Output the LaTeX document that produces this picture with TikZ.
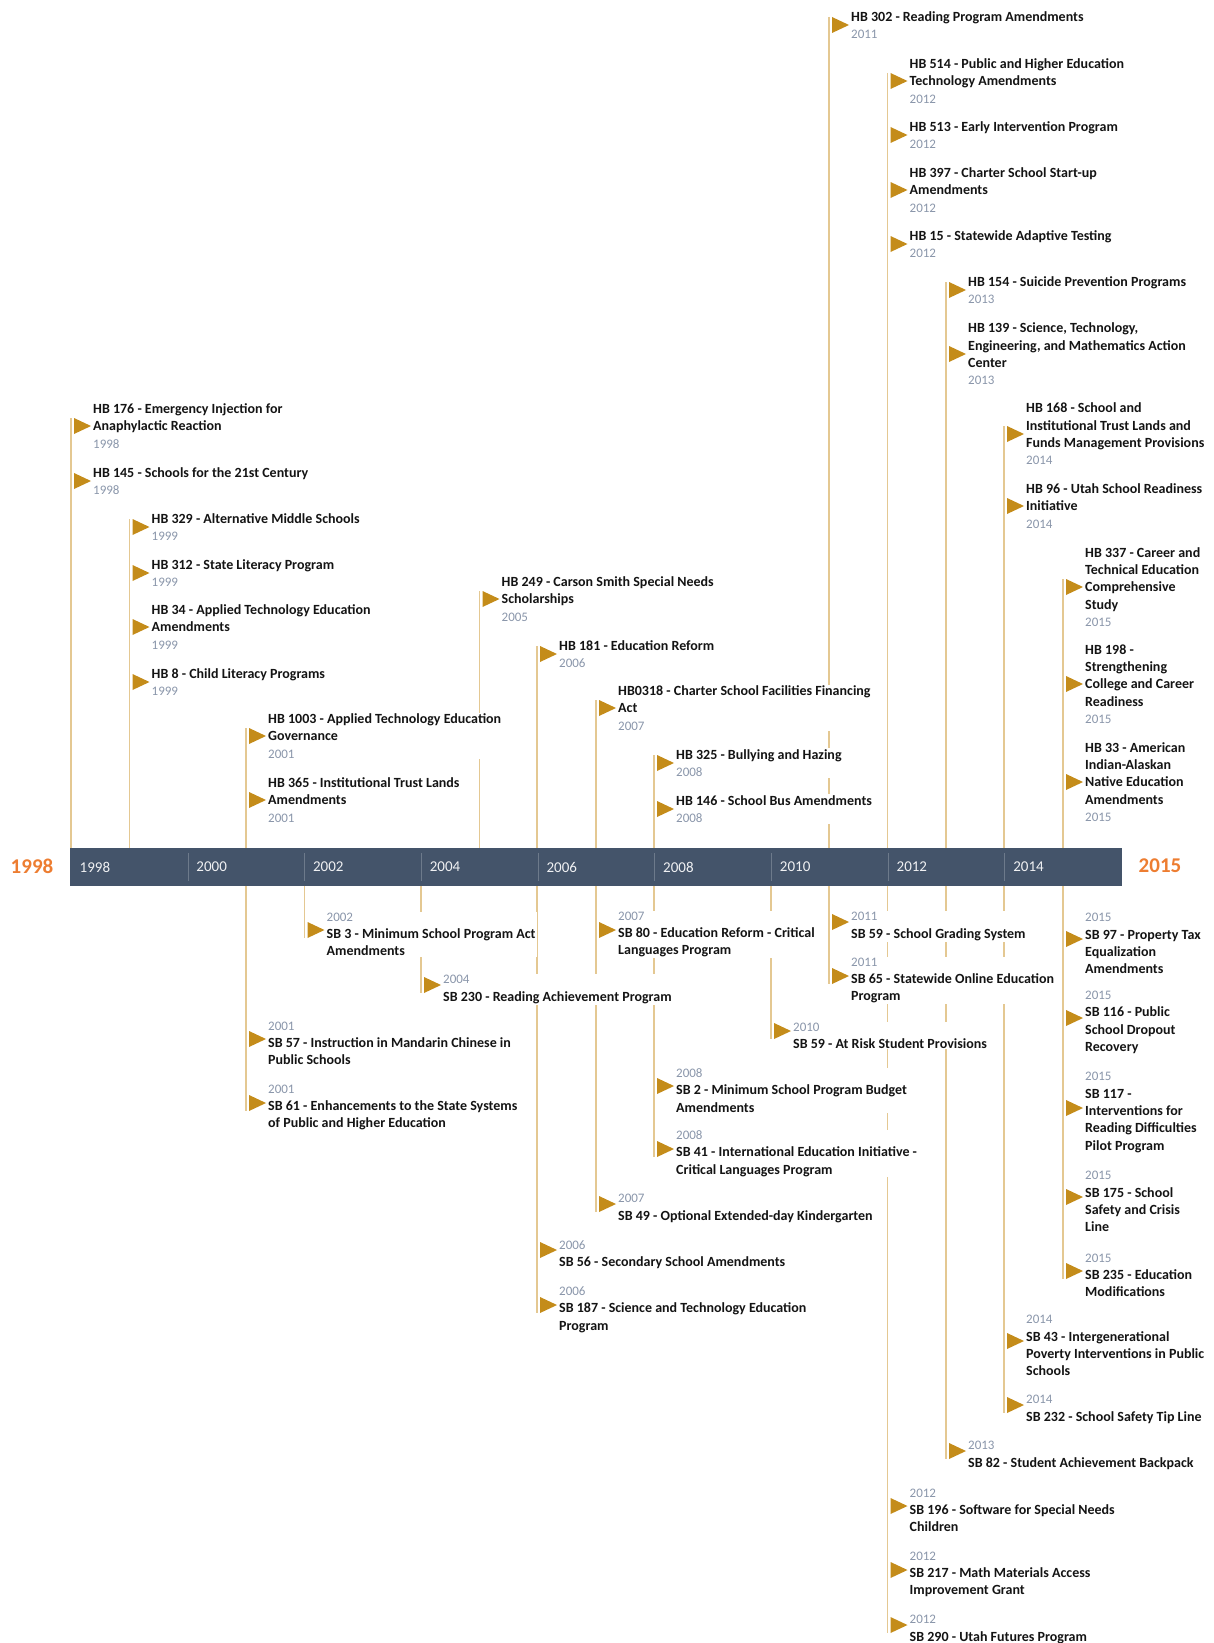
\documentclass[tikz,border=0pt]{standalone}
\usepackage{fontspec}
\setmainfont{Carlito}
\definecolor{barc}{HTML}{44546A}
\definecolor{flagc}{RGB}{196,140,26}
\definecolor{stemc}{RGB}{228,200,146}
\definecolor{yrc}{RGB}{138,150,170}
\definecolor{bigc}{HTML}{ED7D31}
\newcommand\yr[1]{{\fontsize{13}{17.3}\selectfont\mdseries\color{yrc}#1}}
\tikzset{
  bill/.style={anchor=west, align=left, fill=white, inner sep=1pt, text=black!92,
    font=\fontsize{14}{17.3}\selectfont\bfseries},
  sbill/.style={bill, yshift=-4.5pt},
  stem/.style={draw=stemc, line width=1.8pt},
  flag/.style={fill=flagc},
  barlbl/.style={anchor=west, text=white!92!barc, font=\fontsize{15}{18}\selectfont},
  bigyr/.style={text=bigc, font=\fontsize{21}{24}\selectfont\bfseries},
  sep/.style={draw=white!22!barc, line width=0.8pt}
}
\begin{document}
\begin{tikzpicture}[x=1pt,y=-1pt]
\useasboundingbox (0,0) rectangle (1214,1643);

% timeline bar
\node[fill=barc, minimum width=1052, minimum height=38, inner sep=0, anchor=north west] (bar) at (70,848) {};
\foreach \yy in {1998,2000,...,2014}
  \node[barlbl] (y\yy) at ({71.2+58.35*(\yy-1998)+5},867) {\yy};
\foreach \yy in {2000,2002,...,2014}
  \draw[sep] ({71.2+58.35*(\yy-1998)},853) -- ({71.2+58.35*(\yy-1998)},881);
\node[bigyr] (start) at (32,866) {1998};
\node[bigyr] (end) at (1160,866) {2015};

% flag points, above the bar
\coordinate (h176) at (71,426);
\coordinate (h145) at (71,481);
\coordinate (h329) at (129.5,527);
\coordinate (h312) at (129.5,573);
\coordinate (h34) at (129.5,627);
\coordinate (h8) at (129.5,682);
\coordinate (h1003) at (246,736);
\coordinate (h365) at (246,800);
\coordinate (h249) at (479.5,599);
\coordinate (h181) at (537,654);
\coordinate (h318) at (596,708);
\coordinate (h325) at (654,763);
\coordinate (h146) at (654,809);
\coordinate (h302) at (829,25);
\coordinate (h514) at (887.5,81);
\coordinate (h513) at (887.5,135);
\coordinate (h397) at (887.5,190);
\coordinate (h15) at (887.5,244);
\coordinate (h154) at (946,290);
\coordinate (h139) at (946,354);
\coordinate (h168) at (1004,434);
\coordinate (h96) at (1004,506);
\coordinate (h337) at (1063,587);
\coordinate (h198) at (1063,684);
\coordinate (h33) at (1063,782);
% flag points, below the bar
\coordinate (s57) at (246,1039);
\coordinate (s61) at (246,1103);
\coordinate (s3) at (304.5,930);
\coordinate (s230) at (421,985);
\coordinate (s56) at (537,1250);
\coordinate (s187) at (537,1305);
\coordinate (s80) at (596,930);
\coordinate (s49) at (596,1204);
\coordinate (s2) at (654,1086);
\coordinate (s41) at (654,1149);
\coordinate (s59r) at (771,1031);
\coordinate (s59g) at (829,922);
\coordinate (s65) at (829,976);
\coordinate (s196) at (887.5,1506);
\coordinate (s217) at (887.5,1570);
\coordinate (s290) at (887.5,1625);
\coordinate (s82) at (946,1451);
\coordinate (s43) at (1004,1341);
\coordinate (s232) at (1004,1405);
\coordinate (s97) at (1063,939);
\coordinate (s116) at (1063,1018);
\coordinate (s117) at (1063,1108);
\coordinate (s175) at (1063,1197);
\coordinate (s235) at (1063,1271);

% stems
\foreach \f in {h176,h329,h1003,h249,h181,h318,h325,h302,h514,h154,h168,h337}
  \draw[stem] ([yshift=8pt]\f) -- (\f |- bar.north);
\foreach \f in {s61,s3,s230,s187,s49,s41,s59r,s65,s290,s82,s232,s235}
  \draw[stem] (\f |- bar.south) -- ([yshift=-8pt]\f);

% flags
\foreach \f in {h176,h145,h329,h312,h34,h8,h1003,h365,h249,h181,h318,h325,h146,
    h302,h514,h513,h397,h15,h154,h139,h168,h96,h337,h198,h33,
    s57,s61,s3,s230,s56,s187,s80,s49,s2,s41,s59r,s59g,s65,
    s196,s217,s290,s82,s43,s232,s97,s116,s117,s175,s235}
  \fill[flag] ([xshift=3pt,yshift=8pt]\f) -- ++(17pt,-8pt) -- ++(-17pt,-8pt) -- cycle;

% house bills
\node[bill] (hb176) at ([xshift=21pt]h176) {HB 176 - Emergency Injection for\\Anaphylactic Reaction\\\yr{1998}};
\node[bill] (hb145) at ([xshift=21pt]h145) {HB 145 - Schools for the 21st Century\\\yr{1998}};
\node[bill] (hb329) at ([xshift=21pt]h329) {HB 329 - Alternative Middle Schools\\\yr{1999}};
\node[bill] (hb312) at ([xshift=21pt]h312) {HB 312 - State Literacy Program\\\yr{1999}};
\node[bill] (hb34) at ([xshift=21pt]h34) {HB 34 - Applied Technology Education\\Amendments\\\yr{1999}};
\node[bill] (hb8) at ([xshift=21pt]h8) {HB 8 - Child Literacy Programs\\\yr{1999}};
\node[bill] (hb1003) at ([xshift=21pt]h1003) {HB 1003 - Applied Technology Education\\Governance\\\yr{2001}};
\node[bill] (hb365) at ([xshift=21pt]h365) {HB 365 - Institutional Trust Lands\\Amendments\\\yr{2001}};
\node[bill] (hb249) at ([xshift=21pt]h249) {HB 249 - Carson Smith Special Needs\\Scholarships\\\yr{2005}};
\node[bill] (hb181) at ([xshift=21pt]h181) {HB 181 - Education Reform\\\yr{2006}};
\node[bill] (hb318) at ([xshift=21pt]h318) {HB0318 - Charter School Facilities Financing\\Act\\\yr{2007}};
\node[bill] (hb325) at ([xshift=21pt]h325) {HB 325 - Bullying and Hazing\\\yr{2008}};
\node[bill] (hb146) at ([xshift=21pt]h146) {HB 146 - School Bus Amendments\\\yr{2008}};
\node[bill] (hb302) at ([xshift=21pt]h302) {HB 302 - Reading Program Amendments\\\yr{2011}};
\node[bill] (hb514) at ([xshift=21pt]h514) {HB 514 - Public and Higher Education\\Technology Amendments\\\yr{2012}};
\node[bill] (hb513) at ([xshift=21pt]h513) {HB 513 - Early Intervention Program\\\yr{2012}};
\node[bill] (hb397) at ([xshift=21pt]h397) {HB 397 - Charter School Start-up\\Amendments\\\yr{2012}};
\node[bill] (hb15) at ([xshift=21pt]h15) {HB 15 - Statewide Adaptive Testing\\\yr{2012}};
\node[bill] (hb154) at ([xshift=21pt]h154) {HB 154 - Suicide Prevention Programs\\\yr{2013}};
\node[bill] (hb139) at ([xshift=21pt]h139) {HB 139 - Science, Technology,\\Engineering, and Mathematics Action\\Center\\\yr{2013}};
\node[bill] (hb168) at ([xshift=21pt]h168) {HB 168 - School and\\Institutional Trust Lands and\\Funds Management Provisions\\\yr{2014}};
\node[bill] (hb96) at ([xshift=21pt]h96) {HB 96 - Utah School Readiness\\Initiative\\\yr{2014}};
\node[bill] (hb337) at ([xshift=21pt]h337) {HB 337 - Career and\\Technical Education\\Comprehensive\\Study\\\yr{2015}};
\node[bill] (hb198) at ([xshift=21pt]h198) {HB 198 -\\Strengthening\\College and Career\\Readiness\\\yr{2015}};
\node[bill] (hb33) at ([xshift=21pt]h33) {HB 33 - American\\Indian-Alaskan\\Native Education\\Amendments\\\yr{2015}};

% senate bills
\node[sbill] (sb57) at ([xshift=21pt]s57) {\yr{2001}\\SB 57 - Instruction in Mandarin Chinese in\\Public Schools};
\node[sbill] (sb61) at ([xshift=21pt]s61) {\yr{2001}\\SB 61 - Enhancements to the State Systems\\of Public and Higher Education};
\node[sbill] (sb3) at ([xshift=21pt]s3) {\yr{2002}\\SB 3 - Minimum School Program Act\\Amendments};
\node[sbill] (sb230) at ([xshift=21pt]s230) {\yr{2004}\\SB 230 - Reading Achievement Program};
\node[sbill] (sb56) at ([xshift=21pt]s56) {\yr{2006}\\SB 56 - Secondary School Amendments};
\node[sbill] (sb187) at ([xshift=21pt]s187) {\yr{2006}\\SB 187 - Science and Technology Education\\Program};
\node[sbill] (sb80) at ([xshift=21pt]s80) {\yr{2007}\\SB 80 - Education Reform - Critical\\Languages Program};
\node[sbill] (sb49) at ([xshift=21pt]s49) {\yr{2007}\\SB 49 - Optional Extended-day Kindergarten};
\node[sbill] (sb2) at ([xshift=21pt]s2) {\yr{2008}\\SB 2 - Minimum School Program Budget\\Amendments};
\node[sbill] (sb41) at ([xshift=21pt]s41) {\yr{2008}\\SB 41 - International Education Initiative -\\Critical Languages Program};
\node[sbill] (sb59r) at ([xshift=21pt]s59r) {\yr{2010}\\SB 59 - At Risk Student Provisions};
\node[sbill] (sb59g) at ([xshift=21pt]s59g) {\yr{2011}\\SB 59 - School Grading System};
\node[sbill] (sb65) at ([xshift=21pt]s65) {\yr{2011}\\SB 65 - Statewide Online Education\\Program};
\node[sbill] (sb196) at ([xshift=21pt]s196) {\yr{2012}\\SB 196 - Software for Special Needs\\Children};
\node[sbill] (sb217) at ([xshift=21pt]s217) {\yr{2012}\\SB 217 - Math Materials Access\\Improvement Grant};
\node[sbill] (sb290) at ([xshift=21pt]s290) {\yr{2012}\\SB 290 - Utah Futures Program};
\node[sbill] (sb82) at ([xshift=21pt]s82) {\yr{2013}\\SB 82 - Student Achievement Backpack};
\node[sbill] (sb43) at ([xshift=21pt]s43) {\yr{2014}\\SB 43 - Intergenerational\\Poverty Interventions in Public\\Schools};
\node[sbill] (sb232) at ([xshift=21pt]s232) {\yr{2014}\\SB 232 - School Safety Tip Line};
\node[sbill] (sb97) at ([xshift=21pt]s97) {\yr{2015}\\SB 97 - Property Tax\\Equalization\\Amendments};
\node[sbill] (sb116) at ([xshift=21pt]s116) {\yr{2015}\\SB 116 - Public\\School Dropout\\Recovery};
\node[sbill] (sb117) at ([xshift=21pt]s117) {\yr{2015}\\SB 117 -\\Interventions for\\Reading Difficulties\\Pilot Program};
\node[sbill] (sb175) at ([xshift=21pt]s175) {\yr{2015}\\SB 175 - School\\Safety and Crisis\\Line};
\node[sbill] (sb235) at ([xshift=21pt]s235) {\yr{2015}\\SB 235 - Education\\Modifications};
\end{tikzpicture}
\end{document}
